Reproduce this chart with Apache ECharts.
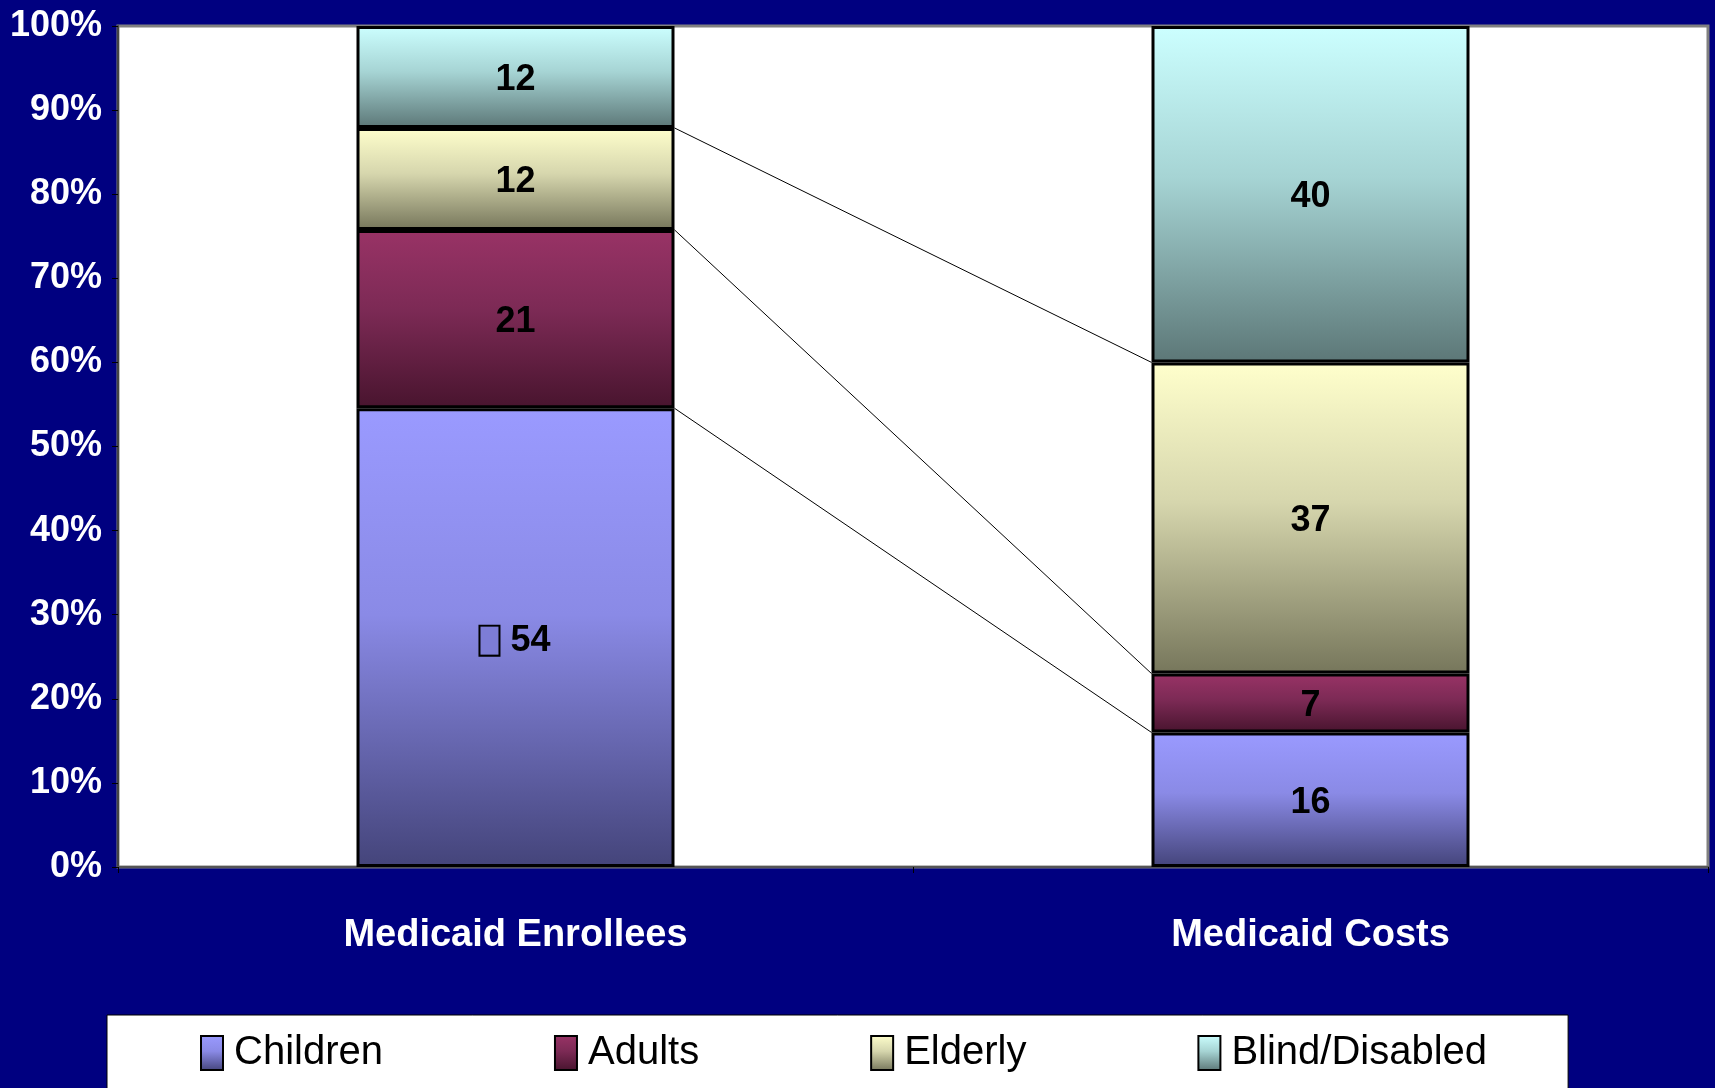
<!DOCTYPE html>
<html>
<head>
<meta charset="utf-8">
<title>Medicaid Enrollees and Costs by Group</title>
<script src="https://cdn.jsdelivr.net/npm/echarts@6/dist/echarts.min.js"></script>
<style>
  html, body { margin: 0; padding: 0; background: #000080; }
  #chart { width: 1715px; height: 1088px; }
</style>
</head>
<body>
<div id="chart"></div>
<script>
// Share of Medicaid enrollees and costs by eligibility group (raw figures, percent)
const categories = ['Medicaid Enrollees', 'Medicaid Costs'];
const groupNames = ['Children', 'Adults', 'Elderly', 'Blind/Disabled'];
const children = [54, 16];
const adults = [21, 7];
const elderly = [12, 37];
const blindDisabled = [12, 40];

const groups = [children, adults, elderly, blindDisabled];

// Gradient stops per group: light top, dark bottom
const palette = [
  ['#9a9aff', '#8a8ae6', '#44447a'],
  ['#993366', '#7c2a55', '#48142e'],
  ['#ffffcc', '#d6d6ad', '#76765b'],
  ['#ccffff', '#a6d4d4', '#5c7777']
];

const FONT = "'Liberation Sans', Arial, sans-serif";

// Each column is drawn as a 100% stack
const totals = categories.map((_, i) => groups.reduce((s, g) => s + g[i], 0));
const shareOf = (g, i) => g[i] / totals[i] * 100;

function grad(c) {
  return new echarts.graphic.LinearGradient(0, 0, 0, 1, [
    { offset: 0, color: c[0] },
    { offset: 0.45, color: c[1] },
    { offset: 1, color: c[2] }
  ]);
}

const barSeries = groups.map((g, k) => ({
  name: groupNames[k],
  type: 'bar',
  stack: 'total',
  barWidth: '40%',
  itemStyle: { color: grad(palette[k]), borderColor: '#000', borderWidth: 3 },
  label: {
    show: true,
    position: 'inside',
    offset: [0, 3],
    color: '#000',
    fontFamily: FONT,
    fontWeight: 'bold',
    fontSize: 36,
    formatter: p => (k === 0 && p.dataIndex === 0)
      ? '{k| }{v|' + p.data.raw + '}'
      : String(p.data.raw),
    rich: {
      k: { width: 18, height: 28, backgroundColor: '#7d7dd6', borderColor: '#000', borderWidth: 2 },
      v: { color: '#000', fontFamily: FONT, fontWeight: 'bold', fontSize: 36, padding: [0, 0, 0, 12] }
    }
  },
  data: g.map((v, i) => ({ value: shareOf(g, i), raw: v }))
}));

// Series lines joining the segment boundaries of the two columns
const boundaries = [];
for (let k = 0; k < groups.length - 1; k++) {
  const cum = categories.map((_, i) => {
    let s = 0;
    for (let j = 0; j <= k; j++) s += shareOf(groups[j], i);
    return s;
  });
  boundaries.push([0, cum[0], cum[1]]);
}

const connector = {
  type: 'custom',
  name: 'connector',
  silent: true,
  z: 5,
  encode: { x: 0, y: 1 },
  renderItem: (params, api) => {
    const half = api.size([1, 0])[0] * 0.2;
    const a = api.coord([0, api.value(1)]);
    const b = api.coord([1, api.value(2)]);
    return {
      type: 'line',
      shape: { x1: a[0] + half, y1: a[1], x2: b[0] - half, y2: b[1] },
      style: { stroke: '#000', lineWidth: 1 }
    };
  },
  data: boundaries
};

const chart = echarts.init(document.getElementById('chart'), null, { renderer: 'canvas' });
chart.setOption({
  backgroundColor: '#000080',
  animation: false,
  grid: {
    left: 118, top: 26, right: 7, bottom: 221,
    outerBoundsMode: 'none',
    containLabel: false,
    show: true, backgroundColor: '#ffffff', borderColor: '#808080', borderWidth: 3
  },
  legend: {
    data: groupNames,
    left: 107,
    top: 1015,
    orient: 'horizontal',
    backgroundColor: '#ffffff',
    borderColor: '#000',
    borderWidth: 1,
    borderRadius: 0,
    padding: [18, 81, 40, 93],
    itemGap: 171,
    itemWidth: 22,
    itemHeight: 34,
    icon: 'rect',
    textStyle: { color: '#000', fontFamily: FONT, fontSize: 40, padding: [0, 0, 0, 6] }
  },
  xAxis: {
    type: 'category',
    data: categories,
    axisLine: { lineStyle: { color: '#555', width: 2 } },
    axisTick: { show: true, length: 6, lineStyle: { color: '#000' } },
    axisLabel: {
      color: '#fff', fontFamily: FONT, fontWeight: 'bold', fontSize: 38, margin: 50
    }
  },
  yAxis: {
    type: 'value',
    min: 0,
    max: 100,
    interval: 10,
    splitLine: { show: false },
    axisLine: { show: true, lineStyle: { color: '#444', width: 2 } },
    axisTick: { show: true, length: 6, lineStyle: { color: '#000' } },
    axisLabel: {
      color: '#fff', fontFamily: FONT, fontWeight: 'bold', fontSize: 36, margin: 16,
      padding: [6, 0, 0, 0],
      formatter: '{value}%'
    }
  },
  series: [...barSeries, connector]
});
</script>
</body>
</html>
